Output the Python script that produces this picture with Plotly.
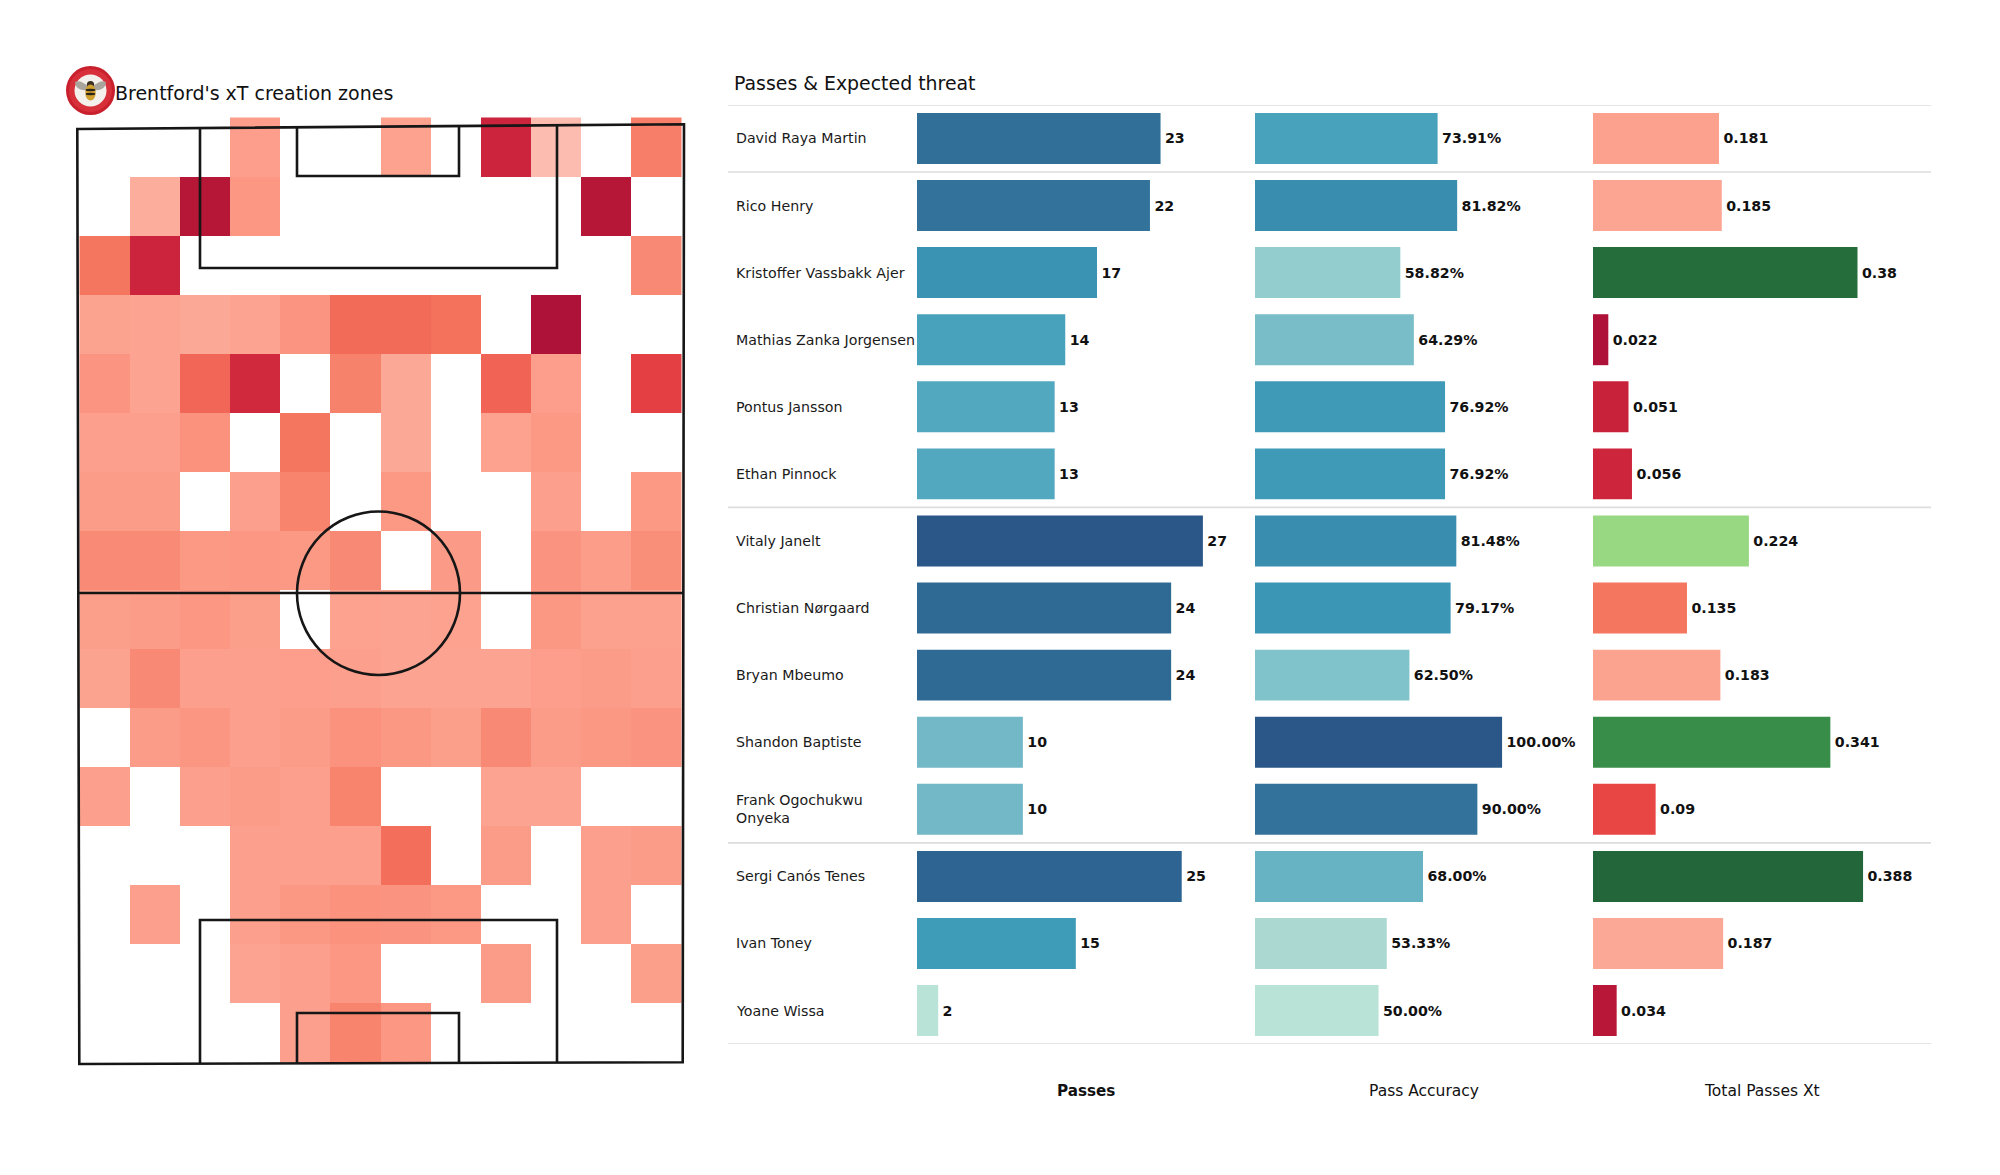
import plotly.graph_objects as go

W, H = 2000, 1175
FONT = "DejaVu Sans"

PLAYERS = ["David Raya Martin", "Rico Henry", "Kristoffer Vassbakk Ajer", "Mathias Zanka Jorgensen",
           "Pontus Jansson", "Ethan Pinnock", "Vitaly Janelt", "Christian Nørgaard", "Bryan Mbeumo",
           "Shandon Baptiste", "Frank Ogochukwu<br>Onyeka", "Sergi Canós Tenes", "Ivan Toney", "Yoane Wissa"]
PASSES = [23, 22, 17, 14, 13, 13, 27, 24, 24, 10, 10, 25, 15, 2]
ACCURACY = [73.91, 81.82, 58.82, 64.29, 76.92, 76.92, 81.48, 79.17, 62.50, 100.00, 90.00, 68.00, 53.33, 50.00]
XT = [0.181, 0.185, 0.38, 0.022, 0.051, 0.056, 0.224, 0.135, 0.183, 0.341, 0.09, 0.388, 0.187, 0.034]
XT_LABELS = ["0.181", "0.185", "0.38", "0.022", "0.051", "0.056", "0.224", "0.135", "0.183", "0.341",
             "0.09", "0.388", "0.187", "0.034"]
SEPARATORS = [-0.5, 0.5, 5.5, 10.5, 13.5]

# Heat cells, top row first, coloured on the same scale as the xT bars (None = empty)
N = None
HEAT = [
    [N, N, N, .178, N, N, .182, N, .055, .200, N, .145],
    [N, .190, .033, .170, N, N, N, N, N, N, .033, N],
    [.135, .055, N, N, N, N, N, N, N, N, N, .155],
    [.183, .184, .187, .184, .168, .125, .125, .130, N, .022, N, N],
    [.168, .184, .120, .060, N, .148, .187, N, .118, .178, N, .085],
    [.180, .180, .165, N, .135, N, .187, N, .182, .172, N, N],
    [.175, .175, N, .180, .150, N, .172, N, N, .180, N, .172],
    [.157, .157, .172, .170, .172, .155, N, .174, N, .167, .176, .160],
    [.177, .175, .170, .177, N, .182, .184, .182, N, .171, .181, .181],
    [.183, .155, .180, .180, .178, .180, .184, .184, .184, .178, .175, .180],
    [N, .175, .169, .180, .175, .165, .171, .177, .155, .175, .171, .166],
    [.180, N, .180, .175, .180, .150, N, N, .184, .184, N, N],
    [N, N, N, .180, .180, .180, .128, N, .175, N, .180, .175],
    [N, .180, N, .180, .171, .165, .167, .172, N, N, .180, N],
    [N, N, N, .184, .180, .170, N, N, .175, N, N, .177],
    [N, N, N, N, .180, .150, .170, N, N, N, N, N],
]

BLUES = [[0, "#b9e3d6"], [.067, "#abd9d2"], [.176, "#93cdcd"], [.25, "#80c3ca"], [.32, "#72b8c6"],
         [.44, "#52a8be"], [.52, "#3f9cb8"], [.6, "#3a93b3"], [.8, "#33729a"], [.88, "#2f6a95"], [1, "#2a5788"]]
XT_MAX = 0.4
XT_STOPS = [(0, "#a50f38"), (.022, "#ae1238"), (.034, "#b81737"), (.055, "#cc243c"), (.09, "#e84545"),
            (.135, "#f5765f"), (.17, "#fb9783"), (.185, "#fca592"), (.2, "#fdbcb0"), (.212, "#d5eeb8"),
            (.224, "#98d882"), (.341, "#388e48"), (.388, "#22663a"), (.4, "#22663a")]
XT_SCALE = [[v / XT_MAX, c] for v, c in XT_STOPS]


def px(x):
    return x / W


def py(y):
    return 1 - y / H


fig = go.Figure()

# --- pitch heatmap -------------------------------------------------------
PX_PER_X = 604 / 68
PX_PER_Y = 938 / 105
HX0, HX1, HY0, HY1 = 66, 694, 108, 1072          # subplot box in pixels
PITCH_LEFT, PITCH_BOTTOM = 78, 1063


def dx(x):
    return (x - PITCH_LEFT) / PX_PER_X


def dy(y):
    return (PITCH_BOTTOM - y) / PX_PER_Y


CELL_X0 = dx(79.5)
CELL_DX = (681.5 - 79.5) / 12 / PX_PER_X
CELL_Y1 = dy(1062.5)
CELL_DY = (1062.5 - 117.5) / 16 / PX_PER_Y
fig.add_trace(go.Heatmap(
    z=HEAT[::-1],
    x=[CELL_X0 + i * CELL_DX for i in range(13)],
    y=[CELL_Y1 + i * CELL_DY for i in range(17)],
    colorscale=XT_SCALE, zmin=0, zmax=XT_MAX, showscale=False, hoverongaps=False,
    xaxis="x", yaxis="y",
))

line = dict(color="#161616", width=2.6)


def data_path(points, close=False):
    s = "M " + " L ".join(f"{dx(x):.3f} {dy(y):.3f}" for x, y in points)
    return s + (" Z" if close else "")


# outline of the pitch is very slightly skewed in the reference
PITCH_PATHS = [
    ([(77.3, 129), (684, 124.3), (682.7, 1062.3), (79.3, 1064)], True),
    ([(200, 128), (200, 268), (557, 268), (557, 125.3)], False),
    ([(297, 127.2), (297, 176), (459, 176), (459, 126)], False),
    ([(200, 1063.6), (200, 920), (557, 920), (557, 1062.7)], False),
    ([(297, 1063.3), (297, 1013), (459, 1013), (459, 1062.9)], False),
    ([(78.3, 593), (683.4, 593)], False),
]
for pts, closed in PITCH_PATHS:
    fig.add_shape(type="path", path=data_path(pts, closed), xref="x", yref="y", line=line, layer="above")
fig.add_shape(type="circle", x0=dx(297), x1=dx(460), y0=dy(675), y1=dy(511.5), xref="x", yref="y",
              line=line, layer="above")

# --- bars ----------------------------------------------------------------
BAR_Y0, BAR_Y1 = 104.9, 1044.1
COL_W = 338
COL_STARTS = [917, 1255, 1593]
RANGES = [31.92, 136.8, 0.4856]
GAP = "\u200a"
LABEL_FONT = dict(family=FONT, size=14.2, color="#111111", weight="bold")
fig.add_trace(go.Bar(
    y=list(range(len(PLAYERS))), x=PASSES, orientation="h", width=.76, xaxis="x2", yaxis="y2",
    marker=dict(color=PASSES, colorscale=BLUES, cmin=2, cmax=27, line_width=0),
    text=[GAP + str(v) for v in PASSES], textposition="outside", cliponaxis=False, textfont=LABEL_FONT,
))
fig.add_trace(go.Bar(
    y=list(range(len(PLAYERS))), x=ACCURACY, orientation="h", width=.76, xaxis="x3", yaxis="y2",
    marker=dict(color=ACCURACY, colorscale=BLUES, cmin=50, cmax=100, line_width=0),
    text=[f"{GAP}{v:.2f}%" for v in ACCURACY], textposition="outside", cliponaxis=False, textfont=LABEL_FONT,
))
fig.add_trace(go.Bar(
    y=list(range(len(PLAYERS))), x=XT, orientation="h", width=.76, xaxis="x4", yaxis="y2",
    marker=dict(color=XT, colorscale=XT_SCALE, cmin=0, cmax=XT_MAX, line_width=0),
    text=[GAP + t for t in XT_LABELS], textposition="outside", cliponaxis=False, textfont=LABEL_FONT,
))

for s in SEPARATORS:
    fig.add_shape(type="line", xref="paper", yref="y2", x0=px(728), x1=px(1931), y0=s, y1=s,
                  line=dict(color="#dddddd", width=1.6), layer="below")

hidden = dict(visible=False, fixedrange=True)
layout_axes = dict(
    xaxis=dict(hidden, domain=[px(HX0), px(HX1)], range=[dx(HX0), dx(HX1)], anchor="y"),
    yaxis=dict(hidden, domain=[py(HY1), py(HY0)], range=[dy(HY1), dy(HY0)], anchor="x"),
    yaxis2=dict(hidden, domain=[py(BAR_Y1), py(BAR_Y0)], range=[13.5, -0.5], anchor="x2"),
)
for i, (start, rng) in enumerate(zip(COL_STARTS, RANGES)):
    layout_axes[f"xaxis{i + 2}"] = dict(hidden, domain=[px(start), px(start + COL_W)], range=[0, rng], anchor="y2")

# --- text ----------------------------------------------------------------
ann = []
for i, name in enumerate(PLAYERS):
    ann.append(dict(xref="paper", yref="y2", x=px(734), y=i, text=name, xanchor="left", yanchor="middle",
                    align="left", showarrow=False,
                    font=dict(family=FONT, size=14.2, color="#1a1a1a")))
ann.append(dict(xref="paper", yref="paper", x=px(732), y=py(83), text="Passes &amp; Expected threat",
                xanchor="left", yanchor="middle", showarrow=False, font=dict(family=FONT, size=18.9, color="#111111")))
ann.append(dict(xref="paper", yref="paper", x=px(112.5), y=py(93.5), text="Brentford's xT creation zones",
                xanchor="left", yanchor="middle", showarrow=False, font=dict(family=FONT, size=19, color="#111111")))
for col, text, weight, size in [(0, "Passes", "bold", 15.2), (1, "Pass Accuracy", "normal", 15.5),
                                (2, "Total Passes Xt", "normal", 15.5)]:
    ann.append(dict(xref="paper", yref="paper", x=px(COL_STARTS[col] + COL_W / 2), y=py(1091), text=text,
                    xanchor="center", yanchor="middle", showarrow=False,
                    font=dict(family=FONT, size=size, color="#111111", weight=weight)))


# --- badge ---------------------------------------------------------------
def ell(cx, cy, rx, ry, fill):
    return dict(type="circle", xref="paper", yref="paper", x0=px(cx - rx), x1=px(cx + rx),
                y0=py(cy + ry), y1=py(cy - ry), fillcolor=fill, line=dict(width=0), layer="above")


def poly(d, fill):
    parts = []
    for tok in d:
        if isinstance(tok, str):
            parts.append(tok)
        else:
            parts.append(f"{px(tok[0]):.5f} {py(tok[1]):.5f}")
    return dict(type="path", xref="paper", yref="paper", path=" ".join(parts), fillcolor=fill,
                line=dict(width=0), layer="above")


badge = [
    ell(90.5, 90.5, 24.5, 24.5, "#c8202c"), ell(90.5, 90.5, 21.5, 21.5, "#d8303a"),
    ell(90.5, 90.5, 16, 16, "#f4f1ec"),
    poly(["M", (89, 87), "Q", (80, 79), (75, 82), "Q", (76, 92), (89, 90), "Z"], "#a9a49c"),
    poly(["M", (92, 87), "Q", (101, 79), (106, 82), "Q", (105, 92), (92, 90), "Z"], "#a9a49c"),
    ell(90.5, 84.5, 3.6, 3.6, "#3a3022"),
    ell(90.5, 92.5, 5.2, 8, "#d0a030"),
    ell(90.5, 90, 5, 1.2, "#2b2418"), ell(90.5, 94, 4.8, 1.2, "#2b2418"),
]

fig.update_layout(
    width=W, height=H, margin=dict(l=0, r=0, t=0, b=0, pad=0), autosize=False,
    paper_bgcolor="#ffffff", plot_bgcolor="#ffffff", showlegend=False, barmode="overlay",
    annotations=ann, font=dict(family=FONT), **layout_axes,
)
for b in badge:
    fig.add_shape(**b)

fig.write_html("out.html", config=dict(displayModeBar=False),
               post_script="document.body.style.margin='0';")
